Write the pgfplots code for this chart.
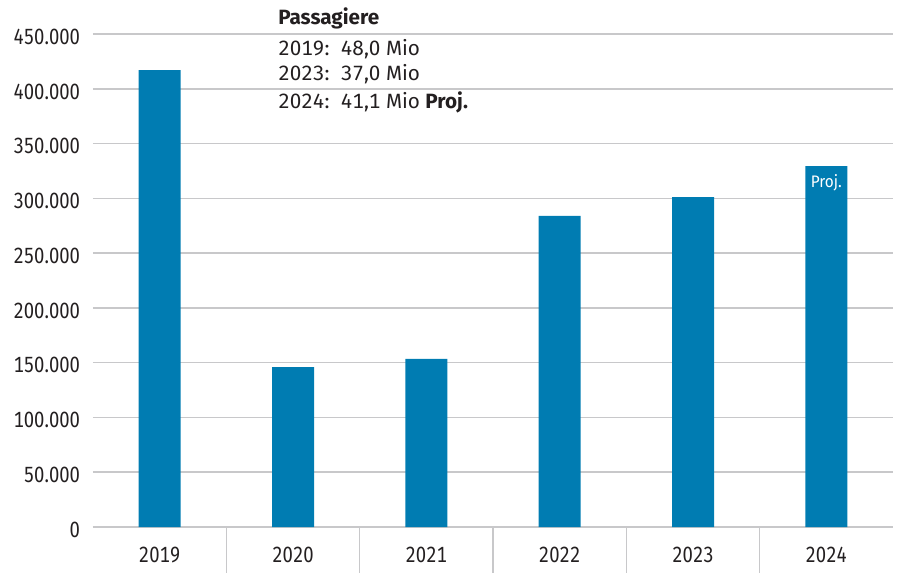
\documentclass[border=0pt]{standalone}
\usepackage{fontspec}
\setmainfont{Fira Sans}[Numbers=Monospaced]
\newfontfamily\tickfont{Fira Sans}[FakeStretch=0.84, Numbers=Monospaced]
\newfontfamily\narrowfont{Fira Sans}[FakeStretch=0.92]
\usepackage{pgfplots}
\usepackage{pgfplotstable}
\pgfplotsset{compat=1.18}
\definecolor{barc}{RGB}{0,124,178}
\definecolor{gridc}{RGB}{200,200,202}
\definecolor{txt}{RGB}{35,31,32}

\pgfplotstableread{
x val
0 417000
1 146000
2 153400
3 283900
4 301200
5 329500
}\data

\begin{document}
\begin{tikzpicture}
\path[use as bounding box] (-69.75pt,-39pt) rectangle (610.5pt,395.25pt);
\begin{axis}[
 at={(0pt,0pt)}, anchor=south west, scale only axis,
 width=600pt, height=369.75pt,
 xmin=-0.5, xmax=5.5, ymin=0, ymax=450000,
 axis x line*=bottom, axis y line*=left,
 x axis line style={draw=gridc, line width=1.2pt, -},
 y axis line style={draw=none},
 major tick length=0pt, tick style={draw=none},
 ymajorgrids, grid style={gridc, line width=1.2pt},
 scaled y ticks=false,
 ytick={0,50000,100000,150000,200000,250000,300000,350000,400000,450000},
 yticklabels={0,50.000,100.000,150.000,200.000,250.000,300.000,350.000,400.000,450.000},
 xtick={0,1,2,3,4,5}, xticklabels={2019,2020,2021,2022,2023,2024},
 tick label style={font=\tickfont\fontsize{16.5}{19}\selectfont, text=txt},
 yticklabel style={anchor=east, inner sep=0pt, xshift=-9.5pt, yshift=-2pt},
 xticklabel style={anchor=north, inner sep=0pt, yshift=-15pt},
 /pgf/number format/assume math mode=true,
 clip=false,
]
\addplot[ybar, bar width=31.5pt, fill=barc, draw=none] table[x=x,y=val]{\data};
\pgfplotsinvokeforeach{0.5,1.5,2.5,3.5,4.5}{
 \draw[gridc, line width=1.2pt] (axis cs:#1,0) -- ([yshift=-34.5pt]axis cs:#1,0);
}
\node[anchor=north, inner sep=0pt, text=white, font=\narrowfont\fontsize{12.5}{14}\selectfont, yshift=-6pt] at (axis cs:5,329500) {Proj.};
\end{axis}
\begin{scope}[every node/.style={anchor=base west, inner sep=0pt, text=txt, font=\fontsize{15.5}{17}\selectfont}]
\node at (138.75pt,376.5pt) {\bfseries Passagiere};
\node at (138.75pt,353.25pt) {2019:\hspace{0.55em}48,0 Mio};
\node at (138.75pt,334.5pt) {2023:\hspace{0.55em}37,0 Mio};
\node at (138.75pt,313.9pt) {2024:\hspace{0.55em}41,1 Mio \bfseries Proj.};
\end{scope}
\end{tikzpicture}
\end{document}
